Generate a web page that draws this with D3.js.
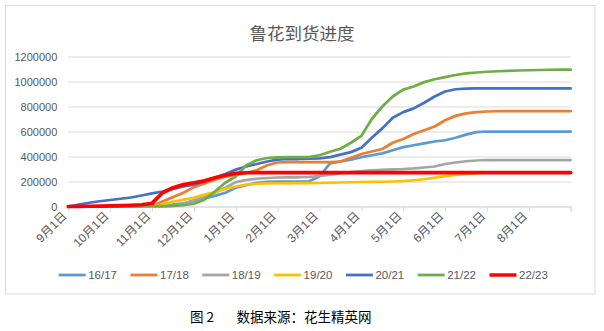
<!DOCTYPE html>
<html><head><meta charset="utf-8">
<script src="https://cdn.jsdelivr.net/npm/d3@7"></script>
<style>
body{margin:0;background:#fff;}
svg{display:block;}
</style></head>
<body>
<svg id="c" width="604" height="331"></svg>
<script>
const title = "鲁花到货进度";
const caption1 = "图 2";
const caption2 = "数据来源：花生精英网";
const monthLabels = ["9月1日","10月1日","11月1日","12月1日","1月1日","2月1日","3月1日","4月1日","5月1日","6月1日","7月1日","8月1日",""];
const yTicks = [0,200000,400000,600000,800000,1000000,1200000];
const seriesNames = ["16/17","17/18","18/19","19/20","20/21","21/22","22/23"];
const seriesColors = ["#5B9BD5","#ED7D31","#A5A5A5","#FFC000","#4472C4","#70AD47","#FF0000"];
// time points in months since Sep 1 (weekly-ish steps)
const periods = d3.range(0, 12.001, 0.25);

const s1617 = [0,0,0,0,1000,1000,2000,2000,3000,8000,15000,25000,45000,65000,85000,110000,150000,170000,190000,198000,200000,200000,200000,202000,240000,345000,360000,375000,395000,410000,425000,450000,475000,490000,505000,520000,530000,550000,575000,595000,600000,600000,600000,600000,600000,600000,600000,600000,600000];
const s1718 = [0,0,0,0,0,0,0,0,2000,40000,75000,110000,155000,185000,215000,238000,252000,268000,290000,330000,352000,355000,355000,355000,355000,355000,360000,390000,420000,440000,460000,510000,540000,580000,610000,640000,690000,725000,745000,755000,760000,762000,764000,764000,764000,764000,764000,764000,764000];
const s1819 = [0,0,0,0,0,0,0,0,0,0,5000,20000,50000,75000,110000,150000,195000,212000,222000,228000,232000,234000,234000,236000,245000,255000,265000,275000,284000,290000,294000,297000,300000,305000,312000,320000,340000,352000,362000,368000,372000,372000,372000,372000,372000,372000,372000,372000,372000];
const s1920 = [0,0,0,0,0,0,0,0,0,15000,38000,55000,70000,95000,115000,140000,160000,175000,182000,185000,186000,186000,187000,187000,188000,190000,192000,194000,196000,197000,198000,200000,203000,210000,218000,230000,243000,252000,260000,266000,270000,272000,272000,272000,272000,272000,272000,272000,272000];
const s2021 = [0,15000,30000,42000,52000,62000,72000,88000,105000,120000,140000,160000,175000,200000,230000,260000,295000,320000,340000,360000,375000,380000,380000,382000,385000,395000,415000,435000,470000,550000,625000,710000,755000,785000,830000,880000,920000,938000,943000,945000,945000,945000,945000,945000,945000,945000,945000,945000,945000];
const s2122 = [0,0,0,0,0,0,0,0,2000,3000,5000,10000,22000,55000,120000,190000,240000,330000,370000,388000,393000,395000,395000,395000,410000,438000,462000,510000,565000,700000,800000,880000,935000,960000,995000,1018000,1035000,1052000,1065000,1072000,1078000,1082000,1085000,1088000,1090000,1092000,1094000,1095000,1095000];
const s2223 = [0,1000,2000,3000,5000,7000,10000,14000,25000,110000,150000,175000,190000,205000,230000,250000,265000,270000,272000,272000,272000,272000,272000,272000,272000,272000,272000,272000,272000,272000,272000,272000,272000,272000,272000,272000,272000,272000,272000,272000,272000,272000,272000,272000,272000,272000,272000,272000,272000];
const seriesValues = [s1617,s1718,s1819,s1920,s2021,s2122,s2223];

const svg = d3.select("#c");
const numFont = "'Liberation Sans', 'Noto Sans CJK SC', sans-serif";
const cjkFont = "'Noto Sans CJK SC', 'Liberation Sans', sans-serif";

// frame
svg.append("rect").attr("x",5.5).attr("y",5.5).attr("width",589.5).attr("height",288.5)
  .attr("fill","#fff").attr("stroke","#D9D9D9").attr("stroke-width",1);

svg.append("text").attr("x",302).attr("y",39.5).attr("text-anchor","middle")
  .attr("font-family",cjkFont).attr("font-size",17.5).attr("fill","#595959").text(title);

const x = d3.scaleLinear().domain([0,12]).range([68.3,570.7]);
const y = d3.scaleLinear().domain([0,1200000]).range([206.5,56.5]);

// y grid + labels
const gy = svg.append("g").attr("transform",`translate(${x(0)},0)`)
  .call(d3.axisLeft(y).tickValues(yTicks).tickFormat(d3.format("d"))
    .tickSize(-(x(12)-x(0))).tickPadding(11));
gy.select(".domain").remove();
gy.selectAll(".tick line").attr("stroke","#D9D9D9").attr("stroke-width",1);
gy.selectAll(".tick text").attr("font-family",numFont).attr("font-size",11).attr("fill","#595959");

// x axis
const gx = svg.append("g").attr("transform",`translate(0,${y(0)})`)
  .call(d3.axisBottom(x).tickValues(d3.range(0,13)).tickSize(5).tickFormat(i=>monthLabels[i]));
gx.select(".domain").attr("stroke","#D9D9D9");
gx.selectAll(".tick line").attr("stroke","#D9D9D9");
gx.selectAll(".tick text").attr("font-family",numFont).attr("font-size",12).attr("fill","#595959")
  .attr("text-anchor","end").attr("dy","0.35em")
  .attr("transform","translate(0,3) rotate(-45)")
  .attr("y",0).attr("x",-6);

// lines
const line = d3.line().x((d,i)=>x(periods[i])).y(d=>y(d));
seriesValues.forEach((vals,k)=>{
  svg.append("path").datum(vals).attr("d",line).attr("fill","none")
    .attr("stroke",seriesColors[k]).attr("stroke-width",k===6?3.75:2.75)
    .attr("stroke-linejoin","round").attr("stroke-linecap","round");
});

// legend
const lg = svg.append("g");
seriesNames.forEach((n,k)=>{
  const lx = 58.7 + k*71.8;
  lg.append("line").attr("x1",lx).attr("x2",lx+27).attr("y1",275).attr("y2",275)
    .attr("stroke",seriesColors[k]).attr("stroke-width",k===6?3.5:2.75);
  lg.append("text").attr("x",lx+29.5).attr("y",275).attr("dy","0.35em")
    .attr("font-family",numFont).attr("font-size",11.5).attr("fill","#595959").text(n);
});

// caption
svg.append("text").attr("x",190).attr("y",317).attr("dy","0.35em")
  .attr("font-family",cjkFont).attr("font-size",13.5).attr("fill","#000").text(caption1);
svg.append("text").attr("x",236.5).attr("y",317).attr("dy","0.35em")
  .attr("font-family",cjkFont).attr("font-size",13.5).attr("fill","#000").text(caption2);
</script>
</body></html>
